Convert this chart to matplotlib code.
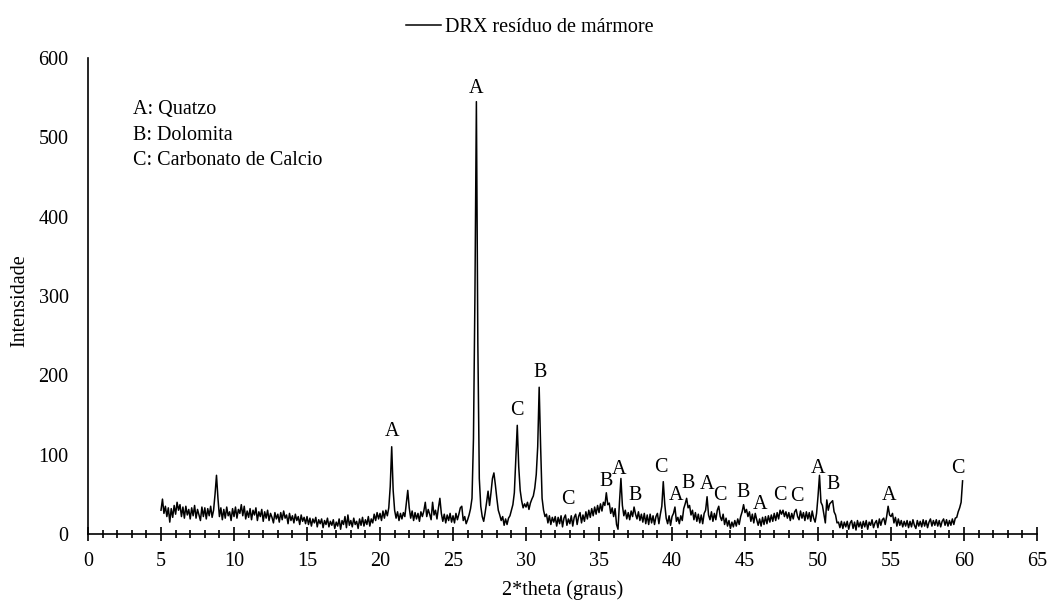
import numpy as np
import matplotlib
matplotlib.use("Agg")
import matplotlib.pyplot as plt

plt.rcParams['font.family'] = ['Liberation Serif', 'DejaVu Serif']

# Diffractogram of marble waste, 0.1 degree step from 5.0 to 59.9 (2*theta)
step = 0.1
start = 5.0
seg_05_10 = [30, 44, 26, 35, 22, 33, 15, 32, 21, 36,
             25, 40, 30, 37, 22, 34, 20, 35, 24, 31,
             19, 33, 23, 36, 20, 31, 24, 17, 34, 22,
             33, 19, 32, 23, 35, 21, 30, 50, 74, 45,
             22, 33, 18, 31, 20, 34, 23, 28, 17, 32]
seg_10_15 = [22, 34, 20, 31, 26, 37, 23, 35, 19, 29,
             21, 32, 18, 30, 24, 33, 17, 28, 22, 31,
             16, 28, 20, 30, 17, 26, 21, 14, 27, 19,
             25, 15, 27, 18, 29, 20, 24, 13, 26, 17,
             23, 14, 25, 17, 22, 12, 24, 16, 21, 13]
seg_15_20 = [22, 12, 20, 10, 19, 14, 21, 9, 18, 13,
             19, 8, 17, 12, 20, 9, 16, 11, 18, 7,
             15, 10, 19, 6, 17, 12, 22, 8, 24, 11,
             17, 9, 20, 12, 16, 7, 19, 11, 21, 10,
             18, 12, 22, 10, 19, 14, 25, 17, 27, 19]
seg_20_25 = [26, 17, 29, 20, 30, 23, 33, 60, 110, 55,
             30, 20, 28, 17, 26, 19, 27, 22, 38, 55,
             33, 20, 29, 17, 27, 19, 26, 16, 28, 22,
             29, 40, 22, 31, 25, 18, 40, 24, 30, 19,
             33, 45, 26, 16, 25, 14, 24, 17, 26, 15]
seg_25_30 = [23, 14, 26, 18, 25, 33, 35, 17, 22, 13,
             18, 24, 32, 45, 120, 300, 545, 240, 70, 35,
             22, 16, 27, 40, 54, 36, 52, 70, 77, 62,
             45, 30, 24, 17, 22, 11, 19, 12, 20, 23,
             30, 37, 52, 95, 137, 85, 55, 42, 33, 38]
seg_30_35 = [34, 40, 31, 39, 44, 48, 58, 75, 110, 185,
             110, 45, 30, 22, 25, 14, 23, 12, 21, 15,
             22, 10, 21, 13, 23, 9, 20, 24, 11, 19,
             13, 23, 10, 21, 25, 12, 22, 27, 14, 24,
             16, 28, 19, 30, 21, 32, 23, 34, 25, 36]
seg_35_40 = [27, 38, 29, 40, 36, 52, 37, 39, 26, 33,
             22, 32, 12, 6, 40, 70, 36, 23, 30, 19,
             27, 18, 29, 22, 34, 25, 19, 28, 17, 25,
             15, 26, 13, 24, 12, 25, 14, 23, 12, 22,
             26, 13, 25, 35, 66, 38, 20, 13, 23, 11]
seg_40_45 = [22, 26, 34, 16, 21, 13, 23, 17, 32, 38,
             45, 33, 36, 24, 30, 18, 27, 16, 25, 14,
             24, 13, 26, 30, 47, 24, 18, 28, 16, 26,
             18, 30, 35, 22, 17, 25, 12, 20, 10, 17,
             7, 15, 9, 17, 10, 19, 12, 22, 28, 37]
seg_45_50 = [27, 31, 22, 28, 16, 25, 14, 26, 18, 11,
             19, 10, 21, 12, 22, 13, 23, 15, 24, 16,
             26, 17, 27, 19, 30, 25, 30, 22, 28, 20,
             27, 17, 26, 19, 28, 31, 22, 18, 29, 20,
             27, 17, 28, 19, 27, 16, 29, 20, 15, 26]
seg_50_55 = [48, 74, 40, 36, 25, 14, 43, 30, 38, 40,
             42, 28, 24, 14, 15, 8, 16, 7, 15, 9,
             16, 6, 14, 17, 7, 15, 5, 17, 9, 15,
             7, 16, 9, 17, 6, 15, 11, 18, 8, 14,
             17, 8, 19, 11, 18, 20, 12, 22, 35, 24]
seg_55_60 = [22, 26, 14, 21, 10, 19, 11, 17, 9, 16,
             10, 17, 8, 16, 9, 18, 11, 7, 17, 10,
             16, 9, 18, 10, 17, 8, 15, 19, 10, 17,
             11, 18, 10, 17, 9, 16, 19, 11, 18, 10,
             17, 11, 19, 12, 20, 21, 28, 33, 40, 67]

intensity = np.array(seg_05_10 + seg_10_15 + seg_15_20 + seg_20_25 + seg_25_30
                     + seg_30_35 + seg_35_40 + seg_40_45 + seg_45_50 + seg_50_55
                     + seg_55_60, dtype=float)
two_theta = start + step * np.arange(len(intensity))

# Phase identification marks: letter, 2*theta, label height
peak_letters = ['A', 'A', 'C', 'B', 'C', 'B', 'A', 'B', 'C', 'A', 'B',
                'A', 'C', 'B', 'A', 'C', 'C', 'A', 'B', 'A', 'C']
peak_theta = [20.8, 26.6, 29.4, 30.95, 32.9, 35.5, 36.4, 37.5, 39.25, 40.3, 41.1,
              42.4, 43.3, 44.85, 46.0, 47.4, 48.55, 50.0, 51.0, 54.85, 59.6]
peak_label_y = [129, 562, 156, 203, 43, 66, 81, 49, 84, 49, 64,
                62, 49, 52, 37, 49, 47, 83, 62, 49, 83]

phase_key = ['A: Quatzo', 'B: Dolomita', 'C: Carbonato de Calcio']

series_name = 'DRX resíduo de mármore'
x_label = '2*theta (graus)'
y_label = 'Intensidade'
x_ticks = list(range(0, 66, 5))
y_ticks = list(range(0, 601, 100))

fs = 14.5
fig = plt.figure(figsize=(10.49, 6.03), dpi=100)
ax = fig.add_axes([0.0839, 0.1144, 0.9047, 0.7894])

line, = ax.plot(two_theta, intensity, color='black', lw=1.1, label=series_name)

ax.set_xlim(0, 65)
ax.set_ylim(0, 600)
ax.set_xticks(x_ticks)
ax.set_xticks(np.arange(0, 66, 1), minor=True)
ax.set_yticks(y_ticks)

for side in ('top', 'right'):
    ax.spines[side].set_visible(False)
for side in ('left', 'bottom'):
    ax.spines[side].set_linewidth(1.2)

ax.tick_params(axis='x', which='major', direction='inout', length=10, width=1.2,
               pad=8, labelsize=fs)
ax.tick_params(axis='x', which='minor', direction='inout', length=6, width=1.2)
ax.tick_params(axis='y', which='both', length=0, pad=14, labelsize=fs)

ax.set_xlabel(x_label, fontsize=fs)
ax.xaxis.label.set_va('center')
ax.xaxis.set_label_coords(0.5, -0.118)
ax.set_ylabel(y_label, fontsize=fs)
ax.yaxis.label.set_va('center')
ax.yaxis.set_label_coords(-0.0717, 0.49)

for letter, xt, yt in zip(peak_letters, peak_theta, peak_label_y):
    ax.text(xt, yt, letter, ha='center', va='center', fontsize=fs)

for i, txt in enumerate(phase_key):
    ax.text(0.047, 0.891 - i * 0.0535, txt, transform=ax.transAxes,
            ha='left', va='center', fontsize=fs)

fig.legend(handles=[line], loc='center', bbox_to_anchor=(0.505, 0.954),
           frameon=False, fontsize=fs, handlelength=1.7, handletextpad=0.2)

fig.savefig('out.png', dpi=100, facecolor='white')
